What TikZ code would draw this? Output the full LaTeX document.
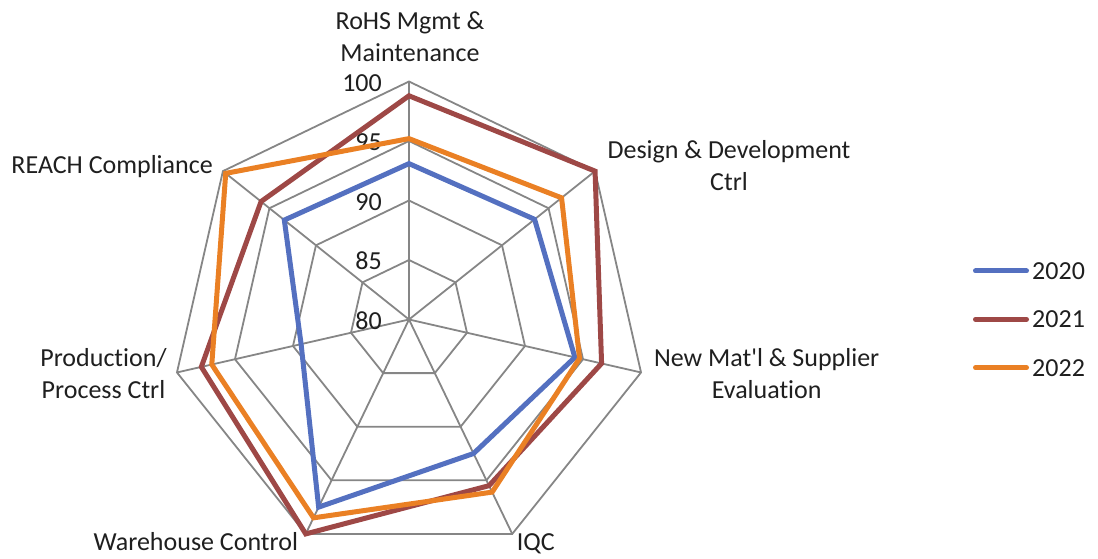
\documentclass[tikz,border=0pt]{standalone}
\usepackage{fontspec}
\setmainfont{Carlito}[Ligatures={TeX,NoCommon}]
\definecolor{webgray}{RGB}{134,134,134}
\definecolor{c2020}{RGB}{84,112,192}
\definecolor{c2021}{RGB}{158,72,70}
\definecolor{c2022}{RGB}{234,128,36}

\begin{document}
\begin{tikzpicture}[x=1pt, y=1pt,
		webline/.style={webgray, line width=1.8pt},
		lab/.style={font=\fontsize{26}{32}\selectfont, text=black!88, inner sep=0pt, align=center},
		s2020/.style={c2020, line width=5pt},
		s2021/.style={c2021, line width=5pt},
		s2022/.style={c2022, line width=5pt}]
			\useasboundingbox (-409,-238.5) rectangle (689,319.5);
			% web: rings at 85, 90, 95, 100 and the seven spokes
			\draw [webline] (90:59.5) -- (38.571:59.5) -- (-12.857:59.5) -- (-64.286:59.5) -- (-115.714:59.5) -- (-167.143:59.5) -- (141.429:59.5) -- cycle;
			\draw [webline] (90:119) -- (38.571:119) -- (-12.857:119) -- (-64.286:119) -- (-115.714:119) -- (-167.143:119) -- (141.429:119) -- cycle;
			\draw [webline] (90:178.5) -- (38.571:178.5) -- (-12.857:178.5) -- (-64.286:178.5) -- (-115.714:178.5) -- (-167.143:178.5) -- (141.429:178.5) -- cycle;
			\draw [webline] (90:238) -- (38.571:238) -- (-12.857:238) -- (-64.286:238) -- (-115.714:238) -- (-167.143:238) -- (141.429:238) -- cycle;
			\draw [webline] (0,0) -- (90:238) (0,0) -- (38.571:238) (0,0) -- (-12.857:238) (0,0) -- (-64.286:238)
				(0,0) -- (-115.714:238) (0,0) -- (-167.143:238) (0,0) -- (141.429:238);
			% scale
			\node (v100) [lab, anchor=base east] at (-27,228.4) {100};
			\node (v95) [lab, anchor=base east] at (-27,168.9) {95};
			\node (v90) [lab, anchor=base east] at (-27,109.4) {90};
			\node (v85) [lab, anchor=base east] at (-27,49.9) {85};
			\node (v80) [lab, anchor=base east] at (-27,-9.6) {80};
			% axis labels (base = last line)
			\node (rohs) [lab, anchor=base] at (1,258.5) {RoHS Mgmt \&\\Maintenance};
			\node (design) [lab, anchor=base] at (320,129.5) {Design \& Development\\Ctrl};
			\node (newmat) [lab, anchor=base] at (357.7,-78.8) {New Mat\textquotesingle l \& Supplier\\Evaluation};
			\node (iqc) [lab, anchor=base] at (126.8,-230.5) {IQC};
			\node (warehouse) [lab, anchor=base] at (-213.2,-230.5) {Warehouse Control};
			\node (production) [lab, anchor=base] at (-305.5,-78.8) {Production/\\Process Ctrl};
			\node (reach) [lab, anchor=base east] at (-196,146.2) {REACH Compliance};
			% the three years
			\draw [s2020] (90:{(93.1-80)*11.9}) -- (38.571:{(93.5-80)*11.9}) -- (-12.857:{(94.3-80)*11.9}) -- (-64.286:{(92.5-80)*11.9})
				-- (-115.714:{(97.5-80)*11.9}) -- (-167.143:{(89.3-80)*11.9}) -- (141.429:{(93.4-80)*11.9}) -- cycle;
			\draw [s2021] (90:{(98.8-80)*11.9}) -- (38.571:{(100-80)*11.9}) -- (-12.857:{(96.6-80)*11.9}) -- (-64.286:{(95.5-80)*11.9})
				-- (-115.714:{(100-80)*11.9}) -- (-167.143:{(97.9-80)*11.9}) -- (141.429:{(95.9-80)*11.9}) -- cycle;
			\draw [s2022] (90:{(95.2-80)*11.9}) -- (38.571:{(96.4-80)*11.9}) -- (-12.857:{(94.7-80)*11.9}) -- (-64.286:{(96.1-80)*11.9})
				-- (-115.714:{(98.5-80)*11.9}) -- (-167.143:{(97.0-80)*11.9}) -- (141.429:{(99.7-80)*11.9}) -- cycle;
			% legend
			\node (l2020) [lab, anchor=base west] at (623,40.2) {2020};
			\node (l2021) [lab, anchor=base west] at (623,-8.1) {2021};
			\node (l2022) [lab, anchor=base west] at (623,-56.5) {2022};
			\draw [s2020, line cap=round] ([xshift=-56.5pt]l2020.west) -- ([xshift=-5.5pt]l2020.west);
			\draw [s2021, line cap=round] ([xshift=-56.5pt]l2021.west) -- ([xshift=-5.5pt]l2021.west);
			\draw [s2022, line cap=round] ([xshift=-56.5pt]l2022.west) -- ([xshift=-5.5pt]l2022.west);
		\end{tikzpicture}
\end{document}
